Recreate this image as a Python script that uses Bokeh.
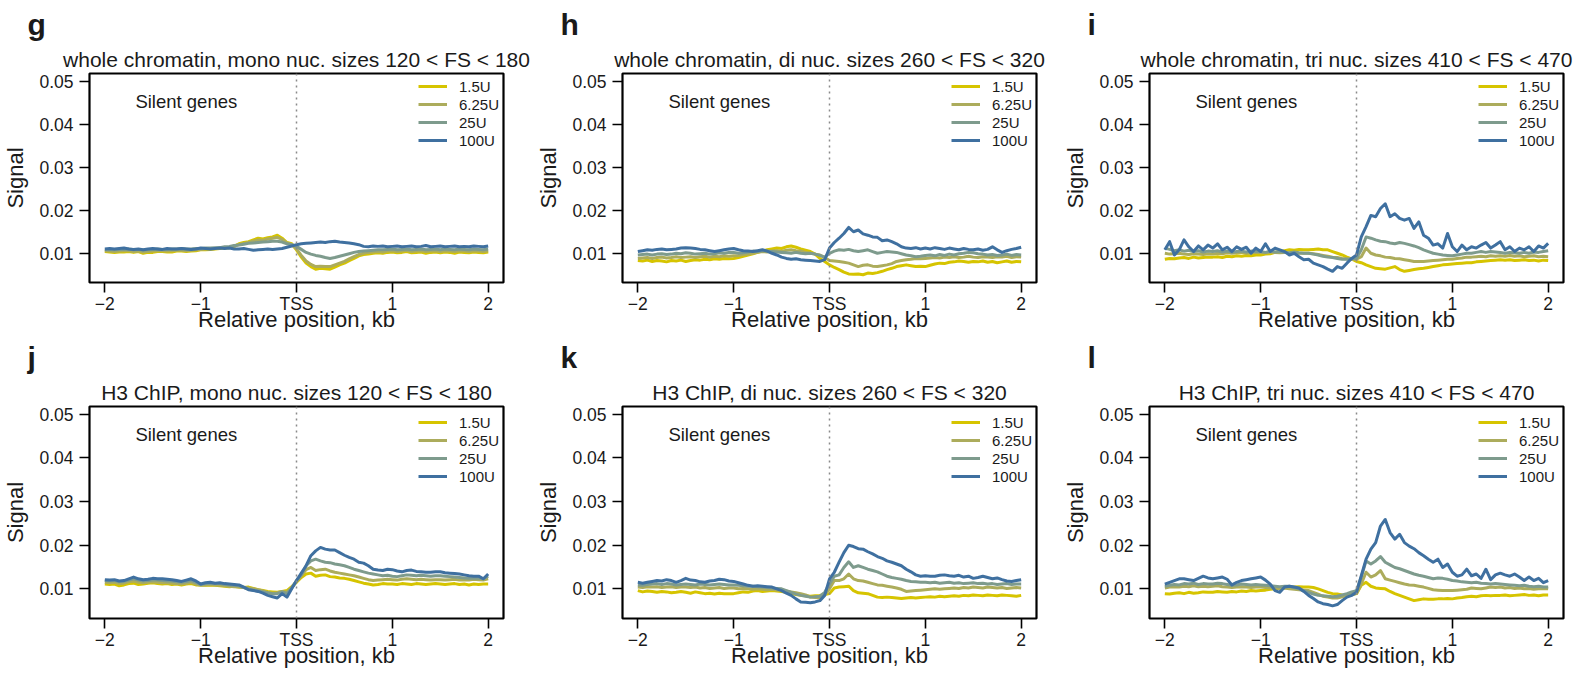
from bokeh.plotting import figure
from bokeh.models import FixedTicker, Span, Label, Legend, LegendItem, Title, Range1d
from bokeh.layouts import row, column
from bokeh.embed import file_html
from bokeh.resources import INLINE

FONT = "Liberation Sans"
TXT = "#1a1a1a"

# ---------------- data ----------------
# relative position to TSS (kb)
X_KB = [round(-2 + 0.05 * i, 2) for i in range(81)]
X_TICKS = [-2, -1, 0, 1, 2]
X_TICK_LABELS = ["\u22122", "\u22121", "TSS", "1", "2"]
Y_TICKS = [0.01, 0.02, 0.03, 0.04, 0.05]

SERIES = ["1.5U", "6.25U", "25U", "100U"]
COLORS = ["#d6c400", "#acac5c", "#7e9b8d", "#3f70a0"]

LETTERS = ["g", "h", "i", "j", "k", "l"]
TITLES = [
    "whole chromatin, mono nuc. sizes 120 < FS < 180",
    "whole chromatin, di nuc. sizes 260 < FS < 320",
    "whole chromatin, tri nuc. sizes 410 < FS < 470",
    "H3 ChIP, mono nuc. sizes 120 < FS < 180",
    "H3 ChIP, di nuc. sizes 260 < FS < 320",
    "H3 ChIP, tri nuc. sizes 410 < FS < 470",
]

SIGNAL_UNIT = 1e-3  # all arrays below are Signal x 1000

# g: whole chromatin, mono
G_15 = [10.4, 10.3, 10.2, 10.3, 10.3, 10.4, 10.2, 10.4, 10.0, 10.2, 10.2, 10.4, 10.4, 10.3, 10.3, 10.5, 10.5, 10.4, 10.5, 10.6,
        10.8, 10.8, 10.9, 11.0, 11.1, 11.2, 11.3, 11.6, 12.2, 12.5, 12.7, 13.1, 13.5, 13.3, 13.6, 13.8, 14.2, 13.5, 12.5, 12.2,
        10.8, 9.1, 7.7, 6.9, 6.3, 6.5, 6.4, 6.3, 6.8, 7.3, 7.7, 8.3, 8.8, 9.4, 9.7, 9.8, 10.0, 10.1, 10.0, 10.2,
        10.3, 10.1, 10.2, 10.4, 10.1, 10.2, 10.3, 10.0, 10.2, 10.3, 10.1, 10.3, 10.2, 10.0, 10.3, 10.2, 10.1, 10.3, 10.2, 10.1, 10.3]
G_625 = [10.6, 10.5, 10.4, 10.5, 10.6, 10.6, 10.4, 10.5, 10.3, 10.4, 10.5, 10.6, 10.6, 10.5, 10.6, 10.7, 10.7, 10.6, 10.7, 10.8,
         10.9, 11.0, 11.0, 11.1, 11.2, 11.3, 11.4, 11.7, 12.0, 12.3, 12.5, 12.8, 13.1, 13.0, 13.3, 13.5, 13.7, 13.2, 12.4, 12.0,
         11.0, 9.5, 8.2, 7.4, 6.9, 7.0, 6.9, 6.9, 7.3, 7.7, 8.1, 8.7, 9.2, 9.7, 10.0, 10.2, 10.3, 10.4, 10.3, 10.5,
         10.6, 10.4, 10.5, 10.7, 10.4, 10.5, 10.6, 10.4, 10.5, 10.6, 10.4, 10.6, 10.5, 10.4, 10.6, 10.5, 10.4, 10.6, 10.5, 10.4, 10.6]
G_25 = [10.9, 10.8, 10.8, 10.9, 10.9, 11.0, 10.8, 10.9, 10.7, 10.8, 10.9, 11.0, 10.9, 10.9, 11.0, 11.0, 11.1, 11.0, 11.0, 11.1,
        11.1, 11.2, 11.2, 11.3, 11.3, 11.5, 11.6, 11.8, 11.9, 12.1, 12.3, 12.4, 12.5, 12.6, 12.7, 12.8, 12.8, 12.6, 12.2, 12.0,
        11.6, 10.9, 10.2, 9.8, 9.5, 9.3, 9.0, 8.8, 9.0, 9.3, 9.6, 9.9, 10.2, 10.4, 10.5, 10.6, 10.7, 10.8, 10.8, 10.9,
        11.0, 10.8, 10.9, 11.0, 10.8, 10.9, 11.0, 10.8, 10.9, 11.0, 10.8, 11.0, 10.9, 10.8, 11.0, 10.9, 10.8, 11.0, 10.9, 10.8, 11.0]
G_100 = [11.0, 11.1, 11.0, 11.1, 11.2, 11.0, 10.9, 11.0, 10.8, 11.0, 11.1, 11.0, 10.9, 11.1, 11.0, 11.0, 11.1, 11.0, 10.9, 11.0,
         11.2, 11.1, 11.0, 11.1, 11.2, 11.1, 11.2, 11.0, 11.0, 11.1, 10.9, 10.7, 10.8, 10.9, 11.0, 10.9, 11.0, 11.1, 11.4, 11.7,
         12.0, 12.2, 12.3, 12.4, 12.5, 12.6, 12.5, 12.7, 12.8, 12.6, 12.5, 12.4, 12.2, 12.0, 11.6, 11.5, 11.7, 11.6, 11.7, 11.5,
         11.6, 11.7, 11.5, 11.6, 11.7, 11.5, 11.6, 11.8, 11.5, 11.6, 11.7, 11.5, 11.6, 11.7, 11.5, 11.6, 11.5, 11.7, 11.6, 11.5, 11.7]

# h: whole chromatin, di
H_15 = [8.3, 8.2, 8.4, 8.1, 8.3, 8.2, 8.0, 8.3, 8.2, 8.4, 8.1, 8.3, 8.5, 8.4, 8.6, 8.5, 8.7, 8.6, 8.8, 8.7,
        8.8, 9.0, 9.3, 9.6, 9.9, 10.2, 10.5, 10.8, 11.0, 11.2, 11.1, 11.5, 11.7, 11.4, 11.0, 10.7, 10.4, 9.8, 8.8, 8.1,
        7.3, 6.7, 6.2, 5.6, 5.2, 5.1, 5.2, 5.0, 5.4, 5.3, 5.5, 5.8, 6.2, 6.5, 6.9, 7.1, 7.3, 7.1, 6.9, 7.0,
        6.9, 7.2, 7.5, 7.7, 7.6, 7.9, 8.0, 8.2, 8.1, 7.9, 8.1, 8.0, 8.2, 7.9, 8.1, 7.8, 8.0, 8.2, 7.9, 8.1, 8.0]
H_625 = [8.8, 8.9, 9.0, 8.8, 9.0, 9.1, 8.9, 9.0, 9.2, 9.0, 9.1, 9.2, 9.0, 9.2, 9.3, 9.1, 9.3, 9.2, 9.4, 9.3,
         9.4, 9.5, 9.7, 9.8, 10.0, 10.2, 10.4, 10.3, 10.5, 10.6, 10.4, 10.7, 10.8, 10.6, 10.5, 10.2, 10.0, 9.8, 9.6, 9.0,
         8.3, 8.2, 8.1, 7.9, 7.7, 7.3, 6.9, 7.2, 7.3, 7.0, 6.9, 7.1, 7.3, 7.6, 8.1, 8.3, 8.5, 8.6, 8.8, 8.7,
         8.8, 8.9, 9.0, 8.9, 9.1, 9.0, 9.2, 9.0, 9.1, 9.3, 9.1, 9.0, 9.2, 9.1, 9.0, 9.2, 9.1, 9.3, 9.0, 9.2, 9.1]
H_25 = [9.6, 9.7, 9.8, 9.6, 9.8, 9.9, 9.7, 9.8, 10.0, 9.9, 10.1, 10.0, 9.8, 9.9, 10.0, 9.8, 9.9, 10.1, 10.0, 10.2,
        10.2, 10.0, 10.1, 10.3, 10.5, 10.4, 10.6, 10.5, 10.4, 10.3, 10.2, 10.1, 10.0, 10.2, 10.0, 9.9, 10.0, 9.8, 9.5, 9.1,
        10.0, 10.5, 10.8, 10.7, 10.9, 10.6, 10.4, 10.6, 10.8, 10.4, 10.0, 10.2, 10.4, 10.3, 10.2, 9.9, 9.6, 9.4, 9.2, 9.3,
        9.5, 9.6, 9.4, 9.7, 9.5, 9.8, 9.6, 9.9, 10.0, 10.2, 10.1, 9.9, 9.8, 9.6, 9.7, 9.5, 9.6, 9.8, 9.5, 9.7, 9.6]
H_100 = [10.4, 10.6, 10.8, 10.7, 10.9, 11.0, 10.8, 10.9, 11.0, 11.2, 11.3, 11.2, 11.1, 10.9, 10.8, 10.6, 10.4, 10.6, 10.8, 11.0,
         11.1, 10.8, 10.6, 10.5, 10.4, 10.6, 10.8, 10.5, 10.0, 9.6, 9.1, 8.8, 8.6, 8.7, 8.5, 8.4, 8.3, 8.2, 8.1, 8.5,
         11.2, 12.5, 13.5, 14.6, 16.0, 15.0, 15.4, 14.5, 14.2, 13.8, 13.7, 12.9, 13.1, 12.7, 12.2, 11.5, 11.2, 11.1, 11.3, 11.0,
         11.2, 11.0, 11.3, 11.1, 10.9, 11.2, 11.0, 10.8, 11.1, 10.9, 10.8, 11.0, 10.7, 10.9, 11.5, 10.8, 10.2, 10.6, 10.9, 11.1, 11.4]

# i: whole chromatin, tri
I_15 = [8.6, 8.8, 8.7, 8.9, 9.0, 8.8, 9.1, 8.9, 9.0, 9.1, 9.1, 9.2, 9.0, 9.3, 9.2, 9.4, 9.3, 9.5, 9.4, 9.6,
        9.6, 9.8, 9.9, 10.2, 10.4, 10.6, 10.8, 10.7, 10.9, 10.8, 10.8, 10.9, 11.0, 10.8, 10.8, 10.4, 10.0, 9.6, 9.1, 8.7,
        8.1, 7.8, 7.3, 6.9, 6.5, 6.4, 6.3, 6.6, 6.9, 6.2, 5.8, 6.0, 6.2, 6.4, 6.5, 6.7, 6.9, 7.1, 7.3, 7.4,
        7.5, 7.6, 7.7, 7.8, 7.8, 8.0, 8.1, 8.2, 8.3, 8.4, 8.5, 8.4, 8.5, 8.3, 8.4, 8.5, 8.3, 8.4, 8.2, 8.4, 8.3]
I_625 = [10.0, 9.8, 9.9, 10.0, 9.8, 9.7, 9.9, 9.8, 9.7, 9.9, 9.8, 10.0, 9.9, 10.1, 10.0, 10.1, 10.2, 10.0, 10.1, 10.2,
         10.2, 10.1, 10.3, 10.2, 10.1, 10.2, 10.0, 10.1, 10.0, 10.0, 10.0, 9.9, 9.7, 9.5, 9.3, 9.1, 9.0, 8.8, 8.7, 8.6,
         8.6, 9.2, 11.2, 10.0, 9.6, 9.4, 9.1, 9.0, 8.8, 8.7, 8.5, 8.3, 8.1, 8.1, 8.1, 8.2, 8.3, 8.4, 8.5, 8.6,
         8.6, 8.8, 8.9, 9.1, 9.1, 9.2, 9.3, 9.2, 9.4, 9.3, 9.4, 9.3, 9.5, 9.3, 9.4, 9.2, 9.3, 9.4, 9.2, 9.3, 9.2]
I_25 = [11.2, 10.9, 10.6, 10.8, 10.5, 10.7, 10.4, 10.6, 10.3, 10.5, 10.4, 10.6, 10.3, 10.5, 10.2, 10.4, 10.5, 10.3, 10.5, 10.4,
        10.4, 10.2, 10.5, 10.3, 10.4, 10.2, 10.1, 10.3, 10.1, 10.0, 10.0, 9.8, 9.6, 9.3, 9.1, 9.0, 8.8, 8.6, 8.6, 8.7,
        8.8, 10.8, 13.8, 13.5, 13.1, 12.8, 12.7, 12.4, 12.2, 12.5, 12.3, 12.0, 11.7, 11.3, 10.8, 10.4, 10.0, 9.8, 9.6, 9.5,
        9.4, 9.6, 9.8, 10.0, 10.0, 10.2, 10.4, 10.2, 10.4, 10.3, 10.2, 10.0, 10.2, 10.1, 10.0, 10.2, 10.0, 10.3, 10.2, 10.4, 10.6]
I_100 = [10.8, 12.7, 9.6, 10.8, 13.1, 11.5, 10.4, 11.7, 10.8, 11.9, 11.2, 12.2, 10.8, 11.4, 10.4, 11.5, 10.9, 11.4, 10.0, 11.2,
         10.4, 12.2, 10.4, 11.2, 10.8, 10.4, 9.6, 10.0, 9.2, 8.5, 8.6, 7.7, 7.3, 6.9, 6.3, 5.8, 6.9, 6.5, 7.7, 8.8,
         9.6, 13.8, 16.2, 18.8, 18.5, 20.4, 21.5, 18.5, 19.2, 18.1, 17.7, 18.1, 15.8, 17.3, 14.2, 13.5, 11.9, 12.2, 11.2, 14.6,
         11.5, 10.4, 11.9, 10.8, 11.5, 11.2, 11.9, 12.5, 11.2, 11.9, 12.7, 10.8, 11.5, 10.4, 11.2, 10.8, 11.5, 10.4, 11.7, 11.2, 12.3]

# j: H3 ChIP, mono
J_15 = [11.1, 11.0, 11.1, 10.7, 10.9, 11.2, 11.3, 11.0, 11.1, 11.3, 11.4, 11.2, 11.1, 11.2, 11.0, 11.1, 10.9, 11.1, 11.2, 10.9,
        10.9, 10.8, 10.9, 10.8, 10.7, 10.6, 10.5, 10.6, 10.4, 10.3, 10.4, 10.1, 9.8, 9.6, 9.4, 9.3, 9.2, 9.4, 9.6, 10.5,
        11.5, 12.6, 13.4, 13.6, 12.9, 13.1, 13.2, 12.8, 12.7, 12.5, 12.4, 12.2, 11.9, 11.6, 11.3, 11.1, 10.9, 11.0, 11.2, 11.1,
        11.1, 11.0, 11.2, 11.1, 11.0, 11.2, 11.1, 11.0, 11.1, 11.2, 11.1, 11.0, 11.1, 11.2, 11.0, 11.1, 10.9, 11.1, 11.0, 11.1, 11.1]
J_625 = [11.5, 11.4, 11.5, 11.2, 11.3, 11.6, 11.8, 11.5, 11.4, 11.5, 11.6, 11.5, 11.4, 11.4, 11.3, 11.2, 11.1, 11.3, 11.5, 11.1,
         10.8, 10.9, 11.0, 10.9, 10.8, 10.7, 10.6, 10.5, 10.4, 10.3, 10.2, 10.0, 9.8, 9.5, 9.1, 9.0, 9.1, 9.4, 9.2, 10.3,
         11.7, 13.0, 14.4, 14.9, 14.2, 14.4, 14.5, 14.1, 13.8, 13.6, 13.4, 13.2, 13.0, 12.7, 12.4, 12.1, 11.9, 12.0, 12.1, 12.2,
         12.1, 12.0, 12.2, 12.3, 12.2, 12.1, 12.2, 12.1, 12.0, 12.1, 12.1, 12.0, 12.1, 12.2, 12.0, 12.1, 12.0, 12.2, 12.1, 12.0, 12.3]
J_25 = [11.9, 11.8, 11.9, 11.6, 11.7, 12.0, 12.3, 12.0, 11.8, 11.9, 12.0, 12.0, 11.9, 11.8, 11.8, 11.6, 11.5, 11.7, 11.9, 11.5,
        11.0, 11.2, 11.3, 11.2, 11.2, 11.0, 10.9, 10.8, 10.7, 10.3, 9.9, 9.7, 9.5, 9.3, 9.1, 8.9, 8.9, 9.3, 8.9, 10.2,
        11.9, 13.2, 15.3, 16.4, 16.8, 16.4, 16.1, 16.0, 15.7, 15.5, 15.3, 14.9, 14.5, 14.2, 13.9, 13.6, 13.4, 13.2, 13.0, 13.1,
        12.9, 12.8, 13.0, 13.2, 13.1, 13.0, 13.1, 13.0, 12.9, 13.0, 13.0, 12.9, 12.8, 12.7, 12.6, 12.5, 12.4, 12.4, 12.5, 12.3, 12.9]
J_100 = [12.1, 12.0, 12.1, 11.8, 11.9, 12.3, 12.7, 12.3, 12.1, 12.2, 12.4, 12.3, 12.3, 12.2, 12.1, 11.9, 11.7, 12.0, 12.3, 11.8,
         11.1, 11.4, 11.5, 11.3, 11.4, 11.2, 11.1, 11.0, 10.9, 10.4, 9.8, 9.6, 9.4, 9.0, 8.5, 8.2, 7.9, 8.9, 8.1, 10.0,
         11.9, 13.6, 15.3, 17.6, 18.7, 19.5, 19.1, 18.9, 18.9, 18.3, 17.7, 17.2, 16.8, 16.1, 15.9, 15.3, 14.5, 14.3, 14.2, 14.5,
         14.4, 14.1, 13.9, 14.2, 14.3, 14.0, 13.9, 13.8, 13.8, 13.9, 13.9, 13.7, 13.6, 13.5, 13.4, 13.2, 13.0, 12.9, 12.9, 12.3, 13.4]

# k: H3 ChIP, di
K_15 = [9.6, 9.3, 9.5, 9.4, 9.2, 9.4, 9.3, 9.1, 9.2, 9.4, 9.2, 9.0, 9.3, 9.1, 8.9, 9.0, 8.8, 9.0, 8.9, 8.9,
        8.9, 9.1, 9.3, 9.2, 9.5, 9.6, 9.4, 9.5, 9.6, 9.5, 9.4, 9.2, 9.0, 8.7, 8.5, 8.4, 8.3, 8.4, 8.5, 8.7,
        8.9, 10.2, 10.4, 10.5, 10.6, 9.6, 9.1, 9.0, 8.9, 8.5, 8.1, 8.0, 8.1, 8.0, 7.9, 7.8, 7.9, 8.0, 7.9, 8.0,
        8.1, 8.2, 8.1, 8.3, 8.2, 8.3, 8.4, 8.3, 8.5, 8.4, 8.6, 8.5, 8.4, 8.6, 8.5, 8.4, 8.6, 8.5, 8.4, 8.3, 8.5]
K_625 = [10.4, 10.3, 10.5, 10.4, 10.5, 10.3, 10.4, 10.5, 10.3, 10.4, 10.4, 10.3, 10.4, 10.2, 10.3, 10.1, 10.2, 10.3, 10.1, 10.2,
         10.2, 10.0, 10.1, 10.0, 9.9, 10.0, 9.9, 9.8, 9.9, 9.7, 9.8, 9.5, 9.3, 9.1, 8.9, 8.6, 8.1, 8.0, 7.9, 8.6,
         10.0, 11.9, 11.9, 12.3, 13.4, 12.3, 11.9, 11.8, 11.5, 11.2, 10.9, 10.8, 10.6, 10.4, 10.2, 9.9, 9.4, 9.5, 9.6, 9.7,
         9.8, 9.9, 10.0, 9.9, 10.0, 10.1, 10.2, 10.1, 10.3, 10.2, 10.4, 10.3, 10.2, 10.4, 10.3, 10.2, 10.3, 10.1, 10.2, 10.3, 10.2]
K_25 = [10.9, 10.8, 11.0, 11.1, 11.2, 11.0, 11.2, 11.1, 10.9, 11.0, 11.1, 11.0, 10.9, 11.1, 11.0, 10.9, 11.0, 11.1, 11.0, 10.9,
        10.9, 10.8, 10.7, 10.6, 10.6, 10.5, 10.4, 10.3, 10.2, 10.1, 10.0, 9.6, 9.2, 8.8, 8.5, 8.3, 8.1, 8.2, 8.3, 9.2,
        11.1, 12.9, 13.2, 14.9, 16.2, 14.9, 15.3, 14.9, 14.5, 14.2, 13.9, 13.4, 12.9, 12.6, 12.4, 12.2, 11.9, 11.7, 11.6, 11.5,
        11.5, 11.4, 11.5, 11.3, 11.4, 11.5, 11.3, 11.4, 11.2, 11.3, 11.4, 11.2, 11.3, 11.1, 11.2, 11.0, 11.1, 11.2, 11.0, 11.1, 11.1]
K_100 = [11.5, 11.3, 11.5, 11.7, 11.9, 11.8, 12.1, 11.9, 11.5, 11.9, 12.4, 12.0, 11.9, 11.6, 11.5, 11.8, 11.9, 12.2, 12.1, 11.8,
         11.7, 11.4, 11.1, 10.8, 10.6, 10.7, 10.6, 10.5, 10.4, 10.0, 9.6, 9.0, 8.5, 7.7, 7.0, 6.9, 6.8, 7.0, 7.3, 8.5,
         12.3, 13.8, 16.1, 18.3, 20.0, 19.7, 19.2, 19.1, 18.5, 18.0, 17.4, 17.0, 16.4, 16.1, 15.7, 15.3, 14.5, 13.9, 13.2, 12.9,
         13.0, 12.9, 12.9, 13.1, 13.2, 13.0, 12.9, 13.1, 12.7, 12.9, 12.4, 12.6, 12.9, 12.6, 12.3, 12.5, 12.1, 11.8, 11.7, 11.9, 12.1]

# l: H3 ChIP, tri
L_15 = [8.9, 8.8, 9.0, 9.1, 8.9, 9.2, 9.0, 9.1, 9.3, 9.2, 9.2, 9.4, 9.3, 9.2, 9.4, 9.3, 9.5, 9.4, 9.6, 9.5,
        9.6, 9.7, 9.9, 10.0, 10.1, 10.3, 10.2, 10.4, 10.5, 10.4, 10.4, 10.3, 10.0, 9.6, 9.2, 8.9, 8.8, 8.6, 8.5, 8.7,
        8.9, 10.8, 11.5, 10.6, 10.2, 10.1, 10.0, 9.4, 8.9, 8.5, 8.1, 7.7, 7.3, 7.5, 7.7, 7.6, 7.6, 7.7, 7.7, 7.8,
        7.7, 7.9, 8.0, 8.2, 8.3, 8.2, 8.4, 8.5, 8.4, 8.5, 8.5, 8.6, 8.4, 8.5, 8.6, 8.7, 8.5, 8.6, 8.4, 8.6, 8.6]
L_625 = [10.2, 10.4, 10.5, 10.4, 10.6, 10.5, 10.7, 10.5, 10.6, 10.5, 10.6, 10.7, 10.5, 10.4, 10.3, 10.4, 10.5, 10.4, 10.3, 10.4,
         10.4, 10.3, 10.2, 10.2, 10.1, 10.2, 10.0, 9.9, 9.8, 9.7, 9.6, 9.2, 8.8, 8.3, 8.1, 7.9, 7.9, 8.2, 8.5, 8.7,
         8.9, 11.1, 13.8, 12.7, 13.2, 14.2, 12.3, 12.0, 11.7, 11.4, 11.1, 10.9, 10.8, 10.6, 10.4, 10.1, 9.8, 9.7, 9.6, 9.6,
         9.6, 9.7, 9.8, 9.9, 10.2, 10.1, 10.0, 10.2, 10.4, 10.3, 10.4, 10.2, 10.3, 10.1, 10.2, 10.0, 10.1, 9.9, 10.0, 10.1, 10.0]
L_25 = [10.6, 10.8, 11.0, 10.9, 11.2, 11.1, 11.3, 11.0, 11.2, 11.1, 11.1, 11.3, 11.2, 11.0, 10.8, 10.9, 11.1, 11.0, 10.9, 11.0,
        10.9, 10.8, 10.7, 10.6, 10.5, 10.6, 10.6, 10.3, 10.0, 9.6, 9.2, 8.8, 8.5, 8.4, 8.3, 8.2, 8.3, 8.6, 8.9, 9.3,
        9.6, 12.7, 16.4, 15.7, 16.4, 17.4, 16.1, 15.5, 14.9, 14.6, 14.2, 13.8, 13.4, 13.1, 12.9, 12.6, 12.3, 12.5, 12.4, 12.2,
        11.9, 11.8, 11.6, 11.5, 11.4, 11.5, 11.3, 11.2, 11.1, 11.2, 11.1, 11.0, 10.9, 10.8, 10.7, 10.8, 10.6, 10.5, 10.6, 10.4, 10.4]
L_100 = [11.1, 11.5, 11.9, 12.3, 12.3, 12.1, 11.9, 12.4, 12.9, 12.5, 12.3, 12.5, 12.7, 12.2, 10.9, 11.5, 11.9, 12.1, 12.3, 12.5,
         12.7, 12.0, 11.1, 9.6, 9.2, 10.4, 10.6, 10.4, 10.2, 9.4, 8.5, 7.8, 7.0, 6.6, 6.4, 6.1, 6.4, 7.3, 8.1, 8.5,
         9.2, 13.0, 16.8, 19.1, 20.6, 24.4, 25.9, 22.9, 21.4, 22.5, 20.6, 19.8, 19.2, 18.3, 17.6, 16.8, 16.1, 16.8, 14.9, 15.7,
         13.8, 12.9, 13.2, 14.5, 13.0, 13.4, 12.4, 14.5, 12.1, 13.2, 13.6, 13.2, 12.9, 13.4, 12.7, 11.9, 12.7, 11.9, 12.4, 11.4, 11.9]

PANEL_DATA = [
    [G_15, G_625, G_25, G_100],
    [H_15, H_625, H_25, H_100],
    [I_15, I_625, I_25, I_100],
    [J_15, J_625, J_25, J_100],
    [K_15, K_625, K_25, K_100],
    [L_15, L_625, L_25, L_100],
]
for pd_ in PANEL_DATA:
    for s in pd_:
        assert len(s) == len(X_KB), len(s)

# ---------------- layout (pixels) ----------------
COL_W = [533, 527, 515]
COL_LEFT = [87, 87, 87]
COL_RIGHT = [30, 24, 12]
ROW_H = [334, 342]
ROW_TOP = [73, 72]
ROW_BOTTOM = [49, 58]


def make_panel(k):
    r, c = divmod(k, 3)
    p = figure(width=COL_W[c], height=ROW_H[r], output_backend="svg", toolbar_location=None,
               x_range=Range1d(-2.16, 2.16), y_range=Range1d(0.0032, 0.0518),
               min_border_left=COL_LEFT[c], min_border_right=COL_RIGHT[c],
               min_border_top=ROW_TOP[r], min_border_bottom=ROW_BOTTOM[r],
               background_fill_color="white", border_fill_color="white")
    p.title.text = ""
    p.add_layout(Title(text=TITLES[k], align="center", text_font=FONT, text_font_size="21px",
                       text_font_style="normal", text_color=TXT, standoff=6), "above")
    p.add_layout(Title(text=LETTERS[k], align="left", offset=25 - COL_LEFT[c], text_font=FONT,
                       text_font_size="30px", text_font_style="bold", text_color=TXT, standoff=4), "above")

    p.xgrid.visible = False
    p.ygrid.visible = False
    p.outline_line_color = "black"
    p.outline_line_width = 2.2
    p.outline_line_alpha = 1.0

    xa, ya = p.xaxis[0], p.yaxis[0]
    xa.ticker = FixedTicker(ticks=X_TICKS)
    xa.major_label_overrides = {t: lab for t, lab in zip(X_TICKS, X_TICK_LABELS)}
    ya.ticker = FixedTicker(ticks=Y_TICKS)
    xa.axis_label = "Relative position, kb"
    ya.axis_label = "Signal"
    for ax in (xa, ya):
        ax.axis_line_color = None
        ax.major_tick_line_color = "black"
        ax.major_tick_line_width = 1.6
        ax.major_tick_in = 0
        ax.major_tick_out = 10
        ax.minor_tick_line_color = None
        ax.major_label_text_font = FONT
        ax.major_label_text_font_size = "17.5px"
        ax.major_label_text_color = TXT
        ax.axis_label_text_font = FONT
        ax.axis_label_text_font_size = "22px"
        ax.axis_label_text_font_style = "normal"
        ax.axis_label_text_color = TXT
    xa.major_label_standoff = 1
    xa.axis_label_standoff = -10
    ya.major_label_standoff = 6
    ya.axis_label_standoff = 8

    p.add_layout(Span(location=0, dimension="height", line_color="#8a8a8a",
                      line_dash="2 4", line_width=1.5))

    items = []
    for s, lab, col in zip(PANEL_DATA[k], SERIES, COLORS):
        ys = [v * SIGNAL_UNIT for v in s]
        rr = p.line(X_KB, ys, line_color=col, line_width=3, line_join="round")
        items.append(LegendItem(label=lab, renderers=[rr]))

    leg = Legend(items=items, location=(329, 133), border_line_color=None,
                 background_fill_alpha=0, glyph_width=29, glyph_height=18, label_height=18,
                 label_standoff=12, spacing=0, padding=0, margin=0,
                 label_text_font=FONT, label_text_font_size="15px", label_text_color=TXT)
    p.add_layout(leg)

    p.add_layout(Label(x=-1.15, y=0.0453, text="Silent genes", text_align="center",
                       text_baseline="middle", text_font=FONT, text_font_size="18.5px",
                       text_color=TXT))
    return p


panels = [make_panel(k) for k in range(6)]
layout = column(row(*panels[:3]), row(*panels[3:]))
open("out.html", "w").write(file_html(layout, INLINE))
